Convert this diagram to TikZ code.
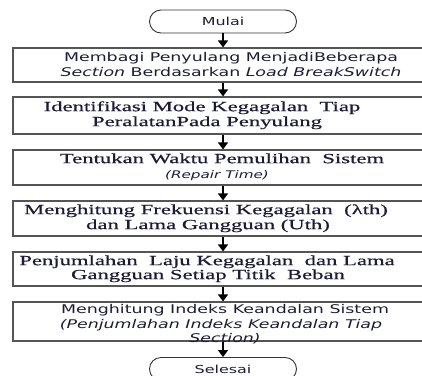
\documentclass[tikz,border=0pt]{standalone}
\usepackage{fontspec}
\usetikzlibrary{arrows.meta,shapes.misc}
\newfontfamily\sfx[FakeStretch=1.45]{DejaVu Sans}
\newfontfamily\rmx[FakeStretch=1.62,FakeBold=0.5]{Liberation Serif}
\definecolor{ink}{RGB}{28,28,55}
\definecolor{frame}{RGB}{85,85,85}
\begin{document}
\begin{tikzpicture}[x=1pt,y=-1pt,
  stepbox/.style={draw=frame,line width=1.1pt,rectangle,minimum width=417pt,inner sep=0pt},
  term/.style={draw=black!80,line width=0.9pt,rounded rectangle,minimum width=147pt,minimum height=23pt,inner sep=0pt,font=\sfx\fontsize{11}{13}\selectfont,text=ink},
  sline/.style={anchor=mid,inner sep=0pt,text=ink,font=\sfx\fontsize{12}{14}\selectfont},
  rline/.style={anchor=mid,inner sep=0pt,text=ink,font=\rmx\fontsize{14}{15}\selectfont},
  arr/.style={draw=black,line width=1.4pt,-{Triangle[length=7pt,width=10pt]}}]
\useasboundingbox (0,0) rectangle (422,375);
\fill[white] (0,0) rectangle (422,375);
% terminals
\node[term] (mulai) at (223,21.5) {Mulai};
\node[term] (selesai) at (223,369) {Selesai};
% boxes
\node[stepbox,minimum height=34pt] (b1) at (221.5,65) {};
\node[stepbox,minimum height=37pt] (b2) at (221.5,115.5) {};
\node[stepbox,minimum height=35pt] (b3) at (221.5,167.5) {};
\node[stepbox,minimum height=35pt] (b4) at (221.5,218.5) {};
\node[stepbox,minimum height=34pt] (b5) at (221.5,269) {};
\node[stepbox,minimum height=39pt] (b6) at (221.5,321.5) {};
% texts
\node[sline] (t1a) at (231,59) {Membagi Penyulang MenjadiBeberapa};
\node[sline] (t1b) at (231,74) {\itshape Section\upshape{} Berdasarkan \itshape Load BreakSwitch};
\node[rline] (t2a) at (202,109) {Identifikasi Mode Kegagalan\ \ Tiap};
\node[rline] (t2b) at (207,124) {PeralatanPada Penyulang};
\node[rline] (t3a) at (222,161) {Tentukan Waktu Pemulihan\ \ Sistem};
\node[sline,font=\sfx\fontsize{10.5}{12}\selectfont\itshape] (t3b) at (217,176) {(Repair Time)};
\node[rline] (t4a) at (206,212) {Menghitung Frekuensi Kegagalan\ \ (λth)};
\node[rline] (t4b) at (208,227) {dan Lama Gangguan (Uth)};
\node[rline] (t5a) at (207,263) {Penjumlahan\ \ Laju Kegagalan\ \ dan Lama};
\node[rline] (t5b) at (208,277) {Gangguan Setiap Titik\ \ Beban};
\node[sline] (t6a) at (225,311) {Menghitung Indeks Keandalan Sistem};
\node[sline,font=\sfx\fontsize{12}{14}\selectfont\itshape] (t6b) at (221,326) {(Penjumlahan Indeks Keandalan Tiap};
\node[sline,font=\sfx\fontsize{12}{14}\selectfont\itshape] (t6c) at (225,340) {Section)};
% connectors
\draw[arr] (mulai.south) -- (mulai.south |- b1.north);
\draw[arr] (mulai.south |- b1.south) -- (mulai.south |- b2.north);
\draw[arr] (mulai.south |- b2.south) -- (mulai.south |- b3.north);
\draw[arr] (mulai.south |- b3.south) -- (mulai.south |- b4.north);
\draw[arr] (mulai.south |- b4.south) -- (mulai.south |- b5.north);
\draw[arr] (mulai.south |- b5.south) -- (mulai.south |- b6.north);
\draw[arr] (mulai.south |- b6.south) -- (selesai.north);
\end{tikzpicture}
\end{document}
